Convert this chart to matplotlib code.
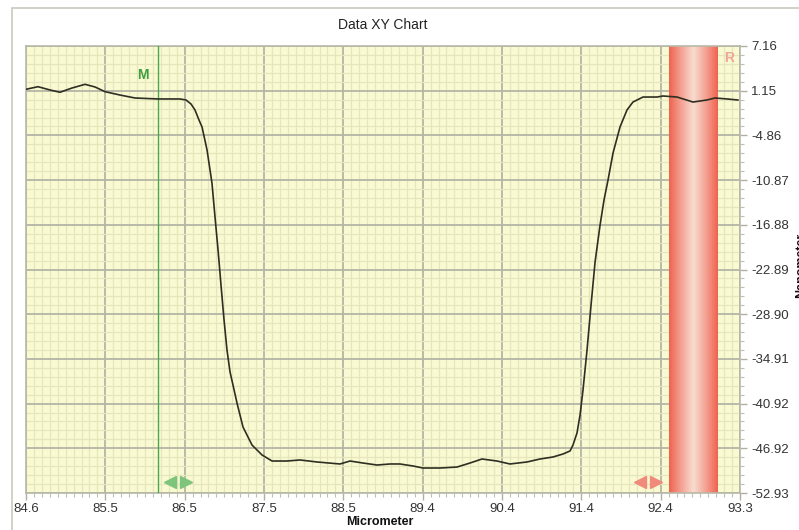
import numpy as np
import matplotlib
matplotlib.use("Agg")
import matplotlib.pyplot as plt
from matplotlib.ticker import AutoMinorLocator
from matplotlib.colors import LinearSegmentedColormap
from matplotlib.patches import Rectangle

plt.rcParams['font.family'] = ['Liberation Sans', 'DejaVu Sans']

# profile (micrometer, nanometer)
micrometer = [84.600, 84.746, 84.892, 85.014, 85.160, 85.319, 85.441, 85.563, 85.745, 85.928,
              86.208, 86.476, 86.550, 86.611, 86.659, 86.708, 86.745, 86.806, 86.866, 86.903,
              86.940, 86.976, 87.013, 87.049, 87.086, 87.122, 87.171, 87.244, 87.354, 87.476,
              87.598, 87.780, 87.939, 88.146, 88.426, 88.548, 88.706, 88.877, 89.035, 89.157,
              89.316, 89.437, 89.644, 89.852, 90.010, 90.156, 90.339, 90.497, 90.705, 90.863,
              91.021, 91.143, 91.229, 91.265, 91.314, 91.351, 91.387, 91.436, 91.485, 91.534,
              91.595, 91.643, 91.692, 91.753, 91.838, 91.923, 91.996, 92.118, 92.289, 92.362,
              92.533, 92.727, 92.898, 92.995, 93.141, 93.275]
nanometer = [1.34, 1.69, 1.25, 0.94, 1.51, 2.01, 1.65, 1.02, 0.57, 0.17,
             0.04, 0.04, -0.10, -0.64, -1.44, -2.79, -3.73, -6.82, -11.26, -15.83,
             -20.26, -24.97, -29.67, -33.71, -36.66, -38.41, -40.83, -44.06, -46.48, -47.82,
             -48.63, -48.63, -48.49, -48.76, -49.03, -48.63, -48.90, -49.17, -49.03, -49.03,
             -49.30, -49.57, -49.57, -49.44, -48.90, -48.36, -48.63, -49.03, -48.76, -48.36,
             -48.09, -47.69, -47.28, -46.48, -44.86, -42.45, -39.08, -33.71, -27.66, -21.88,
             -16.90, -13.54, -10.85, -7.22, -3.73, -1.44, -0.37, 0.30, 0.30, 0.44,
             0.30, -0.37, -0.10, 0.17, 0.04, -0.10]

x_labels = ["84.6", "85.5", "86.5", "87.5", "88.5", "89.4", "90.4", "91.4", "92.4", "93.3"]
y_labels = ["7.16", "1.15", "-4.86", "-10.87", "-16.88", "-22.89", "-28.90",
            "-34.91", "-40.92", "-46.92", "-52.93"]

x_min, x_max = 84.6, 93.3
y_min, y_max = -52.93, 7.16

m_cursor = 86.21
r_band = (92.435, 93.02)

fig = plt.figure(figsize=(7.99, 5.30), dpi=100)
fig.patch.set_facecolor("white")
ax = fig.add_axes([26 / 799, 1 - 493 / 530, 714 / 799, 447 / 530])
ax.set_facecolor("#fafad2")

# outer frame
fig.add_artist(Rectangle((12 / 799, -0.2), 1.0, 1.2 - 8 / 530, transform=fig.transFigure,
                         fill=False, edgecolor="#c9c9bd", linewidth=1.2))

ax.set_xlim(x_min, x_max)
ax.set_ylim(y_min, y_max)
ax.set_xticks(np.linspace(x_min, x_max, len(x_labels)))
ax.set_xticklabels(x_labels)
ax.set_yticks(np.linspace(y_max, y_min, len(y_labels)))
ax.set_yticklabels(y_labels)
ax.xaxis.set_minor_locator(AutoMinorLocator(10))
ax.yaxis.set_minor_locator(AutoMinorLocator(5))

ax.grid(which="major", color="#b5b5a5", linewidth=1.3, zorder=1)
ax.grid(which="minor", color="#e6e6bc", linewidth=0.9, zorder=0.5)
ax.set_axisbelow(True)

ax.yaxis.tick_right()
ax.tick_params(axis="both", which="major", labelsize=9.5, colors="#b0b0a0",
               labelcolor="#333333", length=5, width=1.0)
ax.tick_params(axis="both", which="minor", colors="#c0c0b0", length=3, width=0.8)
ax.tick_params(axis="y", pad=3)
ax.tick_params(axis="x", pad=2)
for s in ax.spines.values():
    s.set_color("#b8b8a8")
    s.set_linewidth(1.2)

# red band with gradient
cmap = LinearSegmentedColormap.from_list("band", ["#f7dccf", "#f4a293", "#ee6350"])
grad = np.abs(np.linspace(-1, 1, 200))[None, :]
ax.imshow(grad, extent=[r_band[0], r_band[1], y_min, y_max], aspect="auto",
          cmap=cmap, zorder=2, interpolation="bicubic")
ax.set_xlim(x_min, x_max)
ax.set_ylim(y_min, y_max)

# M cursor
ax.axvline(m_cursor, color="#4aa84a", linewidth=1.0, zorder=3)
ax.text(86.03, 3.3, "M", color="#3f9e3f", fontsize=10, fontweight="bold",
        ha="center", va="center", zorder=4)
ax.text(93.17, 5.5, "R", color="#f3a594", fontsize=10, fontweight="bold",
        ha="center", va="center", zorder=4)

# slider handles
ax.plot([86.35], [-51.45], marker="<", markersize=9, color="#7dc47d", zorder=4, clip_on=False)
ax.plot([86.55], [-51.45], marker=">", markersize=9, color="#7dc47d", zorder=4, clip_on=False)
ax.plot([92.08], [-51.45], marker="<", markersize=9, color="#f08a7a", zorder=4, clip_on=False)
ax.plot([92.28], [-51.45], marker=">", markersize=9, color="#f08a7a", zorder=4, clip_on=False)

ax.plot(micrometer, nanometer, color="#2e2e22", linewidth=1.2, zorder=5)

fig.text(383 / 799, 1 - 25 / 530, "Data XY Chart", ha="center", va="center",
         fontsize=10, color="#222222")
fig.text(380 / 799, 1 - 522 / 530, "Micrometer", ha="center", va="center",
         fontsize=9, fontweight="bold", color="#111111")
fig.text(801 / 799, 0.5, "Nanometer", rotation=90, ha="center", va="center",
         fontsize=9, fontweight="bold", color="#111111")

fig.savefig("out.png", dpi=100)
